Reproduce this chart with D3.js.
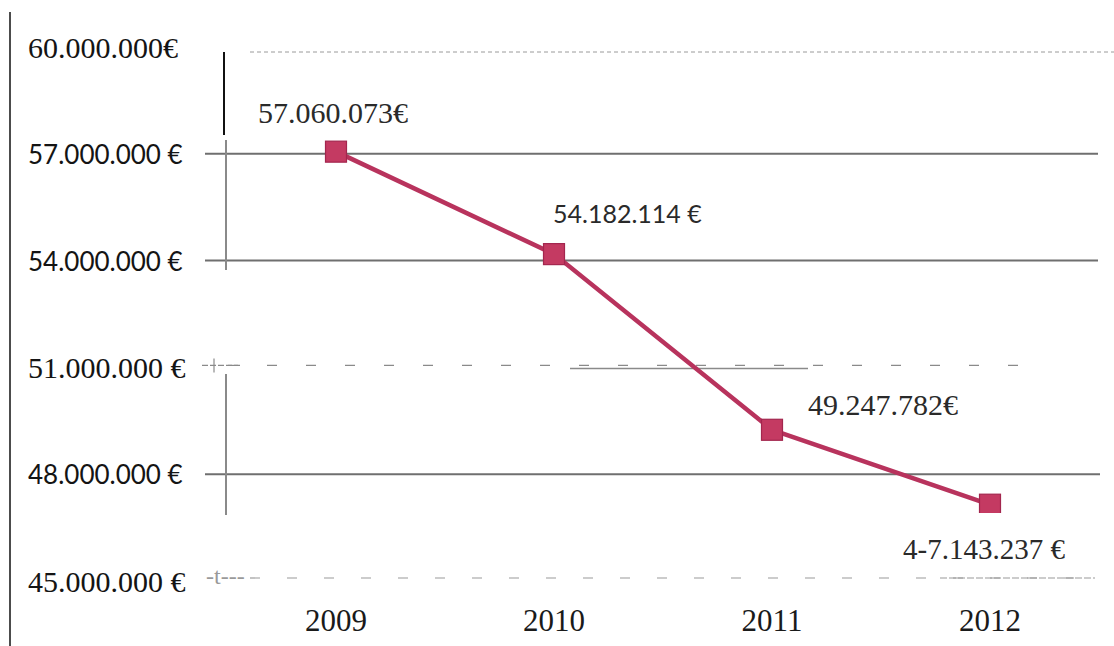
<!DOCTYPE html>
<html>
<head>
<meta charset="utf-8">
<script src="https://cdn.jsdelivr.net/npm/d3@7"></script>
<style>
  html, body { margin: 0; padding: 0; background: #fff; }
  svg { display: block; }
</style>
</head>
<body>
<svg id="chart" width="1114" height="646"></svg>
<script>
// Yearly totals in euros
const years = ["2009", "2010", "2011", "2012"];
const totals = [57060073, 54182114, 49247782, 47143237];
const valueLabels = ["57.060.073€", "54.182.114 €", "49.247.782€", "4-7.143.237 €"];

// Y axis ticks and their labels
const tickValues = [60000000, 57000000, 54000000, 51000000, 48000000, 45000000];
const tickLabels = ["60.000.000€", "57.000.000 €", "54.000.000 €", "51.000.000 €", "48.000.000 €", "45.000.000 €"];

const SERIF = '"Liberation Serif"';
const SANS = 'Lato';

const svg = d3.select("#chart");

const y = d3.scaleLinear().domain([45000000, 60000000]).range([581, 47]);
const x = d3.scalePoint().domain(years).range([336, 990]);

// Left frame line
svg.append("line")
  .attr("x1", 10).attr("x2", 10).attr("y1", 12).attr("y2", 646)
  .attr("stroke", "#111").attr("stroke-width", 1.5);

// Horizontal grid lines, one style per tick
const gridStyle = {
  60000000: { x1: 250, x2: 1114, color: "#9a9a9a", width: 1, dash: "4 3", dy: 5 },
  57000000: { x1: 205, x2: 1098, color: "#6f6f6f", width: 2, dash: null, dy: 0 },
  54000000: { x1: 205, x2: 1098, color: "#6f6f6f", width: 2, dash: null, dy: 0 },
  51000000: { x1: 228, x2: 1040, color: "#8a8a8a", width: 1.2, dash: "10 29", dy: -2 },
  48000000: { x1: 205, x2: 1100, color: "#6f6f6f", width: 2, dash: null, dy: 0 },
  45000000: { x1: 250, x2: 1100, color: "#9a9a9a", width: 1.2, dash: "10 27", dy: -3 }
};

svg.append("g").selectAll("line")
  .data(tickValues)
  .join("line")
  .attr("x1", d => gridStyle[d].x1)
  .attr("x2", d => gridStyle[d].x2)
  .attr("y1", d => y(d) + gridStyle[d].dy)
  .attr("y2", d => y(d) + gridStyle[d].dy)
  .attr("stroke", d => gridStyle[d].color)
  .attr("stroke-width", d => gridStyle[d].width)
  .attr("stroke-dasharray", d => gridStyle[d].dash);

// Short solid run on the 51M line and dense dashes at the row starts
svg.append("line")
  .attr("x1", 570).attr("x2", 808)
  .attr("y1", y(51000000) + 1).attr("y2", y(51000000) + 1)
  .attr("stroke", "#8a8a8a").attr("stroke-width", 1.5);
svg.append("line")
  .attr("x1", 202).attr("x2", 240)
  .attr("y1", y(51000000) - 2).attr("y2", y(51000000) - 2)
  .attr("stroke", "#8a8a8a").attr("stroke-width", 1.2).attr("stroke-dasharray", "6 2");
svg.append("line")
  .attr("x1", 214).attr("x2", 214)
  .attr("y1", y(51000000) - 9).attr("y2", y(51000000) + 5)
  .attr("stroke", "#8a8a8a").attr("stroke-width", 1.2);
svg.append("text")
  .attr("x", 206).attr("y", y(45000000) + 3)
  .style("font-family", SERIF)
  .attr("font-size", 24).attr("fill", "#999")
  .text("-t---");
svg.append("line")
  .attr("x1", 940).attr("x2", 1095)
  .attr("y1", y(45000000) - 3).attr("y2", y(45000000) - 3)
  .attr("stroke", "#9a9a9a").attr("stroke-width", 1.2).attr("stroke-dasharray", "7 2");

// Vertical axis pieces
svg.append("line")
  .attr("x1", 224).attr("x2", 224).attr("y1", 52).attr("y2", 135)
  .attr("stroke", "#111").attr("stroke-width", 2);
svg.append("line")
  .attr("x1", 226).attr("x2", 226).attr("y1", 140).attr("y2", 270)
  .attr("stroke", "#8a8a8a").attr("stroke-width", 2);
svg.append("line")
  .attr("x1", 226).attr("x2", 226).attr("y1", 374).attr("y2", 515)
  .attr("stroke", "#8a8a8a").attr("stroke-width", 2);

// Y tick labels: serif and sans rows alternate in the source layout
const sansTicks = new Set([57000000, 54000000, 48000000]);
svg.append("g").selectAll("text")
  .data(tickValues)
  .join("text")
  .attr("x", 28)
  .attr("y", d => y(d))
  .attr("dominant-baseline", "central")
  .style("font-family", d => sansTicks.has(d) ? SANS : SERIF)
  .attr("font-size", d => sansTicks.has(d) ? 26 : 30)
  .attr("fill", "#141414")
  .text((d, i) => tickLabels[i]);

// Plot clip: the lower marker is cut at the plot edge
svg.append("clipPath").attr("id", "plotClip")
  .append("rect").attr("x", 200).attr("y", 100).attr("width", 914).attr("height", 413);

const plot = svg.append("g").attr("clip-path", "url(#plotClip)");

const data = years.map((yr, i) => ({ year: yr, value: totals[i] }));

plot.append("path")
  .datum(data)
  .attr("fill", "none")
  .attr("stroke", "#b8335d")
  .attr("stroke-width", 4.5)
  .attr("stroke-linejoin", "round")
  .attr("d", d3.line().x(d => x(d.year)).y(d => y(d.value)));

const markerSize = 21;
plot.append("g").selectAll("rect")
  .data(data)
  .join("rect")
  .attr("x", d => x(d.year) - markerSize / 2)
  .attr("y", d => y(d.value) - markerSize / 2)
  .attr("width", markerSize)
  .attr("height", markerSize)
  .attr("fill", "#c43a62")
  .attr("stroke", "#a3264e")
  .attr("stroke-width", 1.2);

// Value labels
const labelStyle = [
  { dx: -78, dy: -39, font: SERIF, size: 30 },
  { dx: -1, dy: -41, font: SANS, size: 25 },
  { dx: 36, dy: -25, font: SERIF, size: 30 },
  { dx: -87, dy: 44, font: SERIF, size: 29 }
];
svg.append("g").selectAll("text")
  .data(data)
  .join("text")
  .attr("x", (d, i) => x(d.year) + labelStyle[i].dx)
  .attr("y", (d, i) => y(d.value) + labelStyle[i].dy)
  .attr("dominant-baseline", "central")
  .style("font-family", (d, i) => labelStyle[i].font)
  .attr("font-size", (d, i) => labelStyle[i].size)
  .attr("fill", "#2a2a2a")
  .text((d, i) => valueLabels[i]);

// Category labels
svg.append("g").selectAll("text")
  .data(years)
  .join("text")
  .attr("x", d => x(d))
  .attr("y", 620)
  .attr("dominant-baseline", "central")
  .attr("text-anchor", "middle")
  .style("font-family", SERIF)
  .attr("font-size", 31)
  .attr("fill", "#1a1a1a")
  .text(d => d);
</script>
</body>
</html>
